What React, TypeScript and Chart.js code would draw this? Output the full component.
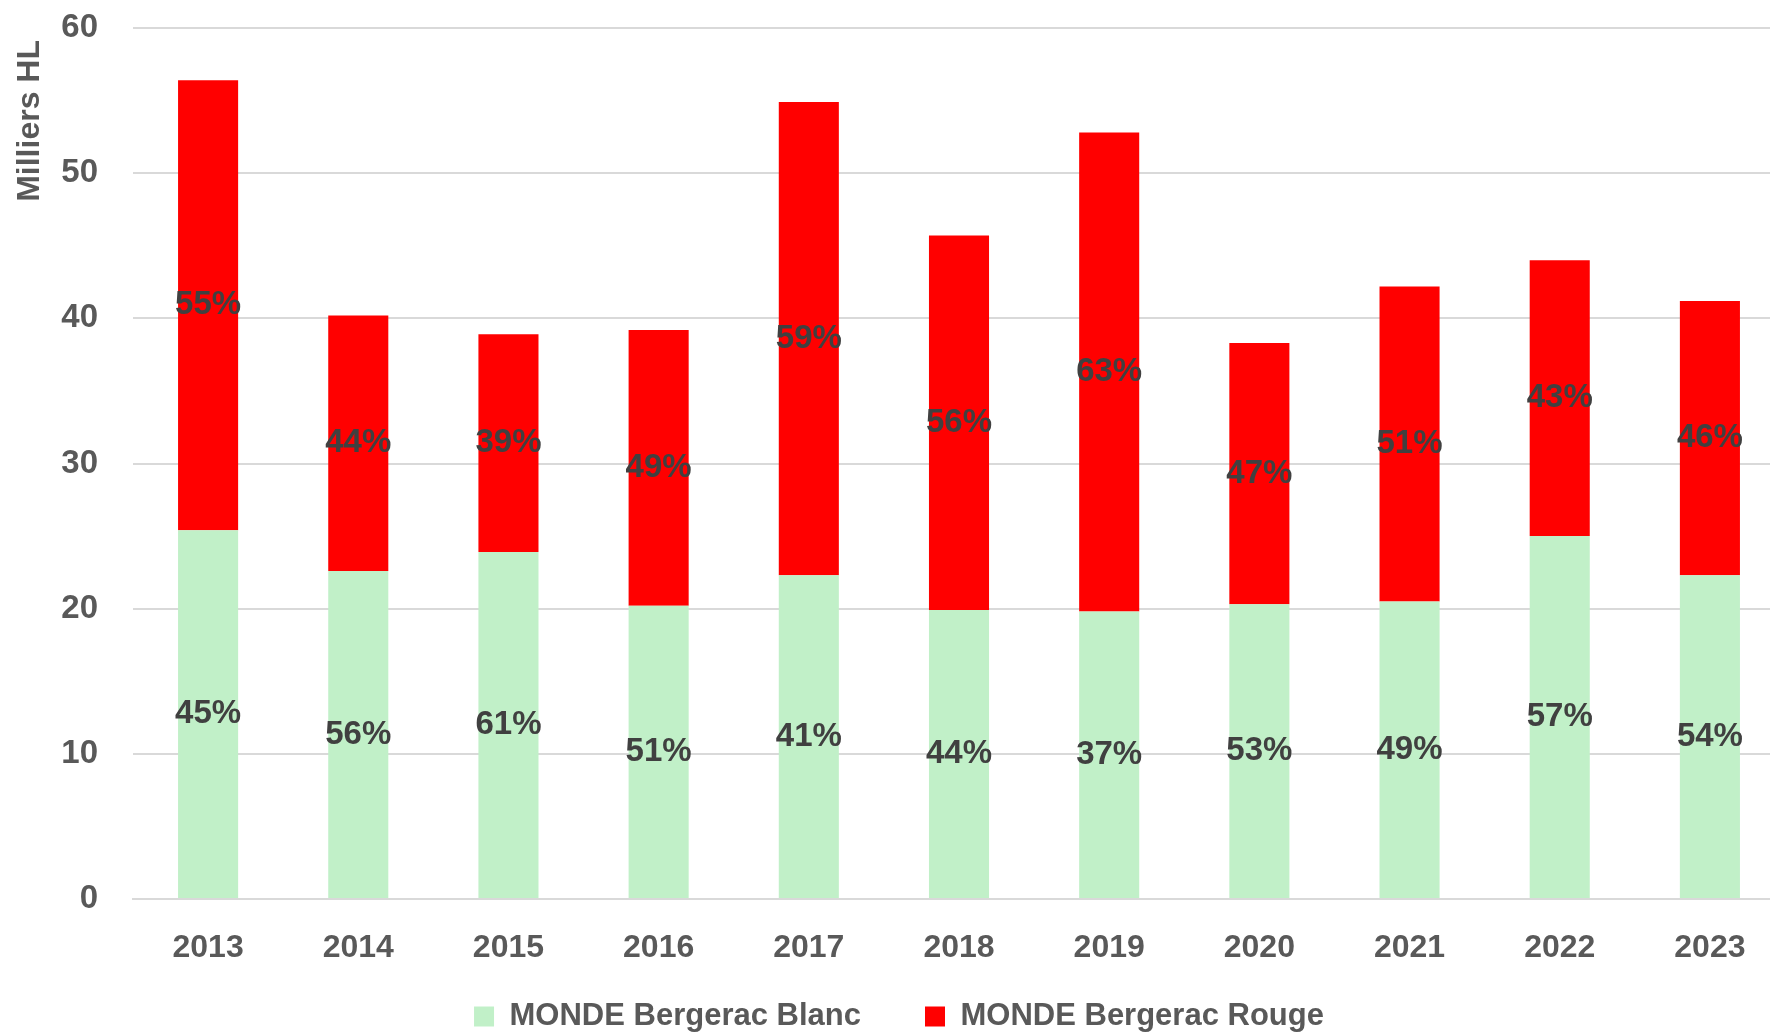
import React, { useEffect, useRef } from "react";
import { Chart, registerables } from "chart.js";

Chart.register(...registerables);

const years = ["2013", "2014", "2015", "2016", "2017", "2018", "2019", "2020", "2021", "2022", "2023"];
const blanc = [25.4, 22.6, 23.9, 20.2, 22.3, 19.9, 19.8, 20.3, 20.5, 25.0, 22.3];
const rouge = [31.0, 17.6, 15.0, 19.0, 32.6, 25.8, 33.0, 18.0, 21.7, 19.0, 18.9];
const blancPct = ["45%", "56%", "61%", "51%", "41%", "44%", "37%", "53%", "49%", "57%", "54%"];
const rougePct = ["55%", "44%", "39%", "49%", "59%", "56%", "63%", "47%", "51%", "43%", "46%"];
const seriesNames = ["MONDE Bergerac Blanc", "MONDE Bergerac Rouge"];
const yTicks = [0, 10, 20, 30, 40, 50, 60];
const yTitle = "Milliers HL";

const FONT = "'Liberation Sans', Arial, sans-serif";

const pctLabelPlugin = {
  id: "pctLabels",
  afterDatasetsDraw(chart: any) {
    const ctx = chart.ctx;
    ctx.save();
    ctx.font = `bold 33px ${FONT}`;
    ctx.fillStyle = "#404040";
    ctx.textAlign = "center";
    ctx.textBaseline = "middle";
    chart.data.datasets.forEach((ds: any, di: number) => {
      const meta = chart.getDatasetMeta(di);
      const labels = di === 0 ? blancPct : rougePct;
      meta.data.forEach((bar: any, i: number) => {
        const p = bar.getProps(["x", "y", "base"], true);
        ctx.fillText(labels[i], p.x, (p.y + p.base) / 2);
      });
    });
    ctx.restore();
  },
};

// y-axis title, placed near the top of the axis, slightly below the top gridline
const yTitlePlugin = {
  id: "yTitle",
  afterDraw(chart: any) {
    const ctx = chart.ctx;
    const top = chart.chartArea.top;
    ctx.save();
    ctx.translate(30, top + 12);
    ctx.rotate(-Math.PI / 2);
    ctx.font = `bold 32px ${FONT}`;
    ctx.fillStyle = "#595959";
    ctx.textAlign = "right";
    ctx.textBaseline = "middle";
    ctx.fillText(yTitle, 0, 0);
    ctx.restore();
  },
};

// keep the legend a little closer to the axis labels
const legendShiftPlugin = {
  id: "legendShift",
  afterLayout(chart: any) {
    const lg = chart.legend;
    if (lg) {
      lg.top -= 32;
      lg.bottom -= 32;
    }
  },
};

export default function App() {
  const ref = useRef<HTMLCanvasElement | null>(null);

  useEffect(() => {
    document.body.style.margin = "0";
    document.body.style.overflow = "hidden";
    document.documentElement.style.overflow = "hidden";
    const canvas = ref.current!;
    const chart = new Chart(canvas, {
      type: "bar",
      data: {
        labels: years,
        datasets: [
          {
            label: seriesNames[0],
            data: blanc,
            backgroundColor: "#c1f0c8",
            categoryPercentage: 1,
            barPercentage: 0.4,
          },
          {
            label: seriesNames[1],
            data: rouge,
            backgroundColor: "#ff0000",
            categoryPercentage: 1,
            barPercentage: 0.4,
          },
        ],
      },
      options: {
        responsive: false,
        animation: false,
        devicePixelRatio: 1,
        layout: { padding: { left: 13, right: 5, top: 28, bottom: -41 } },
        plugins: {
          tooltip: { enabled: false },
          legend: {
            position: "bottom",
            labels: {
              color: "#595959",
              font: { family: FONT, size: 31, weight: "bold" },
              boxWidth: 20,
              boxHeight: 20,
              padding: 64,
            },
          },
        },
        scales: {
          x: {
            stacked: true,
            grid: { display: false, drawTicks: false },
            border: { color: "#d9d9d9", width: 2 },
            ticks: {
              color: "#595959",
              font: { family: FONT, size: 32, weight: "bold" },
              padding: 30,
              maxRotation: 0,
            },
            afterFit: (s: any) => {
              s.height = 70;
            },
          },
          y: {
            stacked: true,
            min: 0,
            max: 60,
            afterBuildTicks: (s: any) => {
              s.ticks = yTicks.map((v) => ({ value: v }));
            },
            grid: { color: "#d9d9d9", lineWidth: 2, drawTicks: false },
            border: { display: false },
            ticks: {
              color: "#595959",
              font: { family: FONT, size: 33, weight: "bold" },
              padding: 35,
            },
            afterFit: (s: any) => {
              s.width = 120;
              s.paddingTop = 0;
              s.paddingBottom = 0;
            },
          },
        },
      },
      plugins: [pctLabelPlugin, yTitlePlugin, legendShiftPlugin],
    } as any);
    return () => chart.destroy();
  }, []);

  return (
    <div style={{ width: 1790, height: 1033 }}>
      <canvas ref={ref} width={1790} height={1033} style={{ display: "block" }} />
    </div>
  );
}
